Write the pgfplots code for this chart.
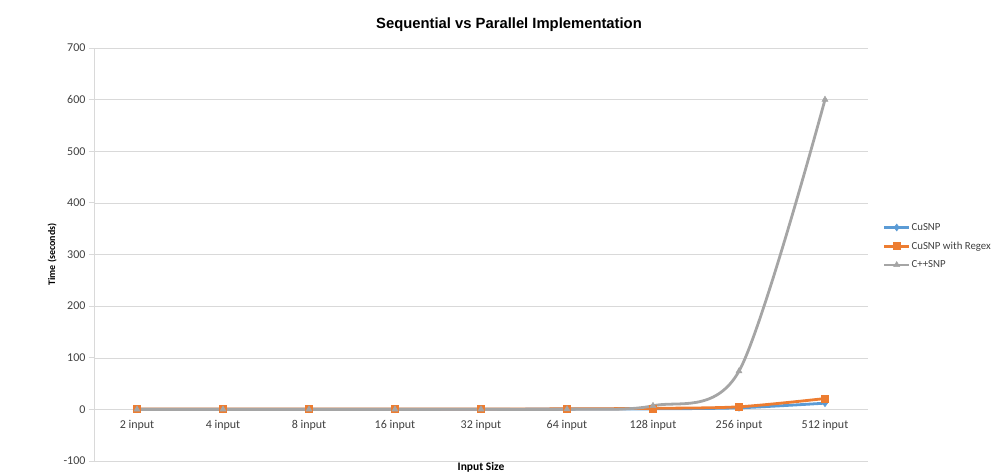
\documentclass[border=0pt]{standalone}
\usepackage{pgfplots}
\pgfplotsset{compat=1.18}
\usepackage{fontspec}
\setmainfont{Carlito}
\newfontfamily\titlefont{Liberation Sans}
\definecolor{cblue}{HTML}{5B9BD5}
\definecolor{corange}{HTML}{ED7D31}
\definecolor{cgrey}{HTML}{A5A5A5}
\definecolor{gridc}{HTML}{D9D9D9}
\definecolor{txt}{HTML}{404040}
\begin{document}
\begin{tikzpicture}[x=1pt,y=1pt]
\useasboundingbox (0,0) rectangle (997,476);
\node[font=\titlefont\bfseries\fontsize{14.8}{17}\selectfont] at (509,451) {Sequential vs Parallel Implementation};
\begin{axis}[
  at={(94pt,15pt)}, anchor=south west,
  scale only axis, width=774pt, height=413pt,
  xmin=-0.5, xmax=8.5, ymin=-100, ymax=700,
  axis x line=middle, axis y line=left,
  axis line style={gridc, -, thick},
  /pgf/number format/assume math mode=true,
  xtick={0,...,8},
  xticklabels={2 input,4 input,8 input,16 input,32 input,64 input,128 input,256 input,512 input},
  major x tick style={draw=none},
  extra x ticks={0.5,1.5,2.5,3.5,4.5,5.5,6.5,7.5},
  extra x tick labels={},
  extra x tick style={tick align=outside, major tick length=5pt, tick style={gridc, thick}, grid=none},
  xticklabel style={font=\fontsize{12}{14}\selectfont, text=txt, yshift=-2pt},
  ytick={-100,0,...,700},
  ymajorgrids, grid style={gridc, thin},
  y tick style={gridc, thick}, tick align=outside, major tick length=5pt,
  yticklabel style={font=\fontsize{12}{14}\selectfont, text=txt},
  ylabel={\textbf{Time (seconds)}}, ylabel style={font=\fontsize{11.5}{13}\selectfont, text=black},
  every axis y label/.style={at={(ticklabel cs:0.5)}, rotate=90, anchor=south, xshift=0pt},
  clip=false,
  legend style={at={(1.015,0.52)}, anchor=west, draw=none, fill=none, font=\fontsize{10.8}{12}\selectfont, text=txt, row sep=8pt, nodes={inner sep=1pt}},
  legend cell align=left,
  legend image code/.code={\draw[#1] (0pt,0pt) -- (25pt,0pt); \draw[#1, mark repeat=1] plot coordinates {(12.5pt,0pt)};},
]
\addplot[cblue, line width=2.8pt, smooth, mark=diamond*, mark size=3.5pt, mark options={solid, line width=0.5pt}] coordinates {
 (0,0.2) (1,0.2) (2,0.3) (3,0.3) (4,0.4) (5,0.5) (6,1) (7,3) (8,12)};
\addlegendentry{CuSNP}
\addplot[corange, line width=2.8pt, smooth, mark=square*, mark size=3.5pt, mark options={line width=0.5pt}] coordinates {
 (0,0.5) (1,0.5) (2,0.6) (3,0.7) (4,0.8) (5,1) (6,2) (7,5) (8,21)};
\addlegendentry{CuSNP with Regex}
\addplot[cgrey, line width=2.8pt, smooth, mark=triangle*, mark size=3.5pt, mark options={line width=0.5pt}] coordinates {
 (0,0) (1,0) (2,0) (3,0) (4,0.1) (5,0.3) (6,7) (7,74) (8,600)};
\addlegendentry{C++SNP}
\node[font=\bfseries\fontsize{11.5}{13}\selectfont, anchor=north, inner sep=1pt] at (rel axis cs:0.5,0) {Input Size};
\end{axis}
\end{tikzpicture}
\end{document}
